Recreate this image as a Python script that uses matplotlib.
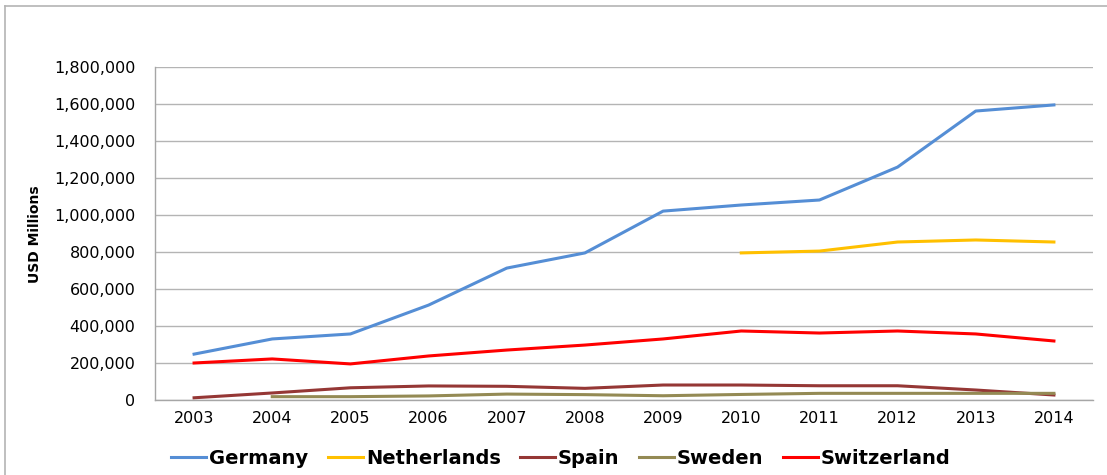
import numpy as np
import matplotlib
matplotlib.use("Agg")
from matplotlib import pyplot as plt
from matplotlib.lines import Line2D
from matplotlib.ticker import FuncFormatter

# Values in USD millions
years = ["2003", "2004", "2005", "2006", "2007", "2008",
         "2009", "2010", "2011", "2012", "2013", "2014"]

germany = [248000, 330000, 357000, 513000, 713000, 795000,
           1021000, 1054000, 1081000, 1259000, 1562000, 1595000]
netherlands = [None] * 7 + [795000, 805000, 854000, 865000, 854000]
spain = [12000, 38000, 66000, 76000, 74000, 63000,
         81000, 81000, 77000, 77000, 54000, 27000]
sweden = [None, 18000, 18000, 22000, 32000, 29000,
          23000, 30000, 36000, 36000, 36000, 36000]
switzerland = [200000, 222000, 195000, 238000, 270000, 297000,
               330000, 373000, 362000, 373000, 357000, 319000]

series = [
    ("Germany", germany, "#558ED5"),
    ("Netherlands", netherlands, "#FFC000"),
    ("Spain", spain, "#953735"),
    ("Sweden", sweden, "#948A54"),
    ("Switzerland", switzerland, "#FF0000"),
]

plt.rcParams['font.family'] = ['DejaVu Sans']

fig = plt.figure(figsize=(11.07, 4.75), dpi=100)
W, H = 1107, 475
axes = fig.add_axes([155 / W, 1 - 400 / H, (1093 - 155) / W, (400 - 67) / H])

# outer chart border: only its top and left edges fall inside the image
border_kw = dict(transform=fig.transFigure, color="#b4b4b4", linewidth=1.2)
fig.add_artist(Line2D([5 / W, 1.0], [1 - 6 / H, 1 - 6 / H], **border_kw))
fig.add_artist(Line2D([5 / W, 5 / W], [0.0, 1 - 6 / H], **border_kw))

x = np.arange(len(years))
for name, vals, color in series:
    v = np.array([np.nan if a is None else a for a in vals], dtype=float)
    axes.plot(x, v, color=color, linewidth=2.2, label=name, zorder=3)

axes.set_xlim(-0.5, len(years) - 0.5)
axes.set_ylim(0, 1800000)
axes.set_yticks(np.arange(0, 1800001, 200000))
axes.yaxis.set_major_formatter(FuncFormatter(lambda v, p: f"{int(v):,}"))
axes.set_xticks(x)
axes.set_xticklabels(years)
axes.tick_params(axis='both', length=0, labelsize=11.5)
axes.tick_params(axis='x', pad=8)
axes.tick_params(axis='y', pad=14)

axes.grid(axis='y', color="#b4b4b4", linewidth=1.0, zorder=0)
for side in ['top', 'right']:
    axes.spines[side].set_visible(False)
for side in ['left', 'bottom']:
    axes.spines[side].set_color("#a6a6a6")
    axes.spines[side].set_linewidth(1.0)

fig.text(35 / W, 1 - 234 / H, "USD Millions", rotation=90, ha='center', va='center',
         fontsize=10, fontweight='bold', family=['Liberation Sans Narrow', 'DejaVu Sans'])

leg = axes.legend(loc='center', bbox_to_anchor=(561 / W, 1 - 458 / H),
                  bbox_transform=fig.transFigure, ncol=5, frameon=False,
                  handlelength=1.8, handletextpad=0.15, columnspacing=1.0,
                  prop=dict(weight='bold', size=14))

plt.savefig('out.png', dpi=100)
